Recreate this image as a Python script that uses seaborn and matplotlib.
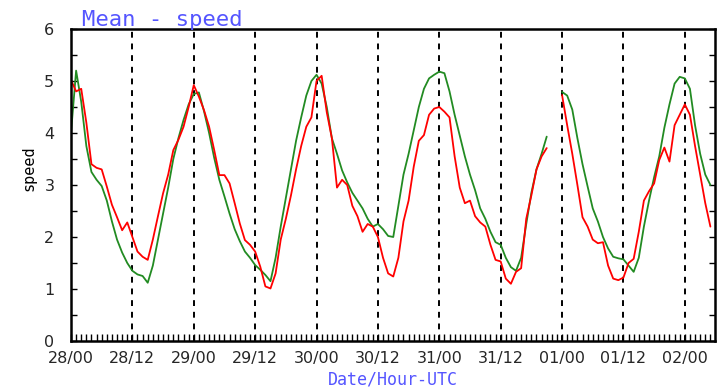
import numpy as np
import pandas as pd
import matplotlib
matplotlib.use("Agg")
import matplotlib.pyplot as plt
import seaborn as sns

# ---- data (hourly values) ----
hours = np.arange(126)
red_speed = [
    5.02, 4.80, 4.85, 4.20, 3.40, 3.33, 3.30, 2.97, 2.62, 2.38,
    2.13, 2.28, 2.00, 1.72, 1.62, 1.56, 1.95, 2.40, 2.84, 3.20,
    3.67, 3.87, 4.12, 4.50, 4.92, 4.70, 4.44, 4.12, 3.67, 3.19,
    3.19, 3.03, 2.65, 2.26, 1.94, 1.85, 1.72, 1.43, 1.05, 1.01,
    1.30, 1.95, 2.35, 2.80, 3.30, 3.75, 4.12, 4.30, 5.00, 5.10,
    4.40, 3.90, 2.95, 3.10, 3.00, 2.60, 2.40, 2.10, 2.25, 2.20,
    2.00, 1.60, 1.30, 1.24, 1.60, 2.30, 2.70, 3.35, 3.85, 3.96,
    4.35, 4.47, 4.50, 4.41, 4.30, 3.55, 2.95, 2.65, 2.70, 2.40,
    2.28, 2.20, 1.85, 1.56, 1.53, 1.20, 1.10, 1.33, 1.40, 2.35,
    2.80, 3.30, 3.55, 3.71, np.nan, np.nan, 4.73, 4.15, 3.60, 3.00,
    2.38, 2.20, 1.95, 1.88, 1.90, 1.45, 1.20, 1.17, 1.22, 1.50,
    1.58, 2.10, 2.70, 2.88, 3.03, 3.48, 3.72, 3.45, 4.15, 4.35,
    4.55, 4.35, 3.75, 3.20, 2.65, 2.20,
]
green_speed = [
    4.00, 5.20, 4.60, 3.75, 3.25, 3.10, 2.98, 2.70, 2.30, 1.95,
    1.70, 1.50, 1.35, 1.28, 1.25, 1.12, 1.45, 1.95, 2.45, 2.95,
    3.50, 3.90, 4.25, 4.55, 4.75, 4.78, 4.42, 4.00, 3.52, 3.10,
    2.78, 2.45, 2.15, 1.92, 1.72, 1.60, 1.46, 1.37, 1.27, 1.15,
    1.60, 2.20, 2.75, 3.30, 3.85, 4.30, 4.72, 5.00, 5.12, 4.95,
    4.50, 3.90, 3.60, 3.28, 3.05, 2.85, 2.70, 2.55, 2.35, 2.20,
    2.25, 2.15, 2.02, 2.00, 2.60, 3.20, 3.60, 4.05, 4.50, 4.85,
    5.05, 5.12, 5.18, 5.15, 4.80, 4.35, 3.95, 3.55, 3.20, 2.90,
    2.55, 2.35, 2.10, 1.90, 1.85, 1.60, 1.42, 1.35, 1.60, 2.25,
    2.85, 3.30, 3.60, 3.93, np.nan, np.nan, 4.79, 4.72, 4.45, 3.90,
    3.40, 2.97, 2.55, 2.30, 2.00, 1.78, 1.62, 1.59, 1.57, 1.45,
    1.33, 1.60, 2.20, 2.70, 3.15, 3.55, 4.10, 4.55, 4.95, 5.08,
    5.05, 4.85, 4.15, 3.60, 3.20, 3.00,
]
tick_hours = [0, 12, 24, 36, 48, 60, 72, 84, 96, 108, 120]
tick_labels = ["28/00", "28/12", "29/00", "29/12", "30/00", "30/12",
               "31/00", "31/12", "01/00", "01/12", "02/00"]
series_names = ["green", "red"]
series_colors = {"green": "#228b22", "red": "#ff0000"}

# ---- long-form table, segments split at the data gap ----
rows = []
for name, vals in (("green", green_speed), ("red", red_speed)):
    seg = 0
    for h, v in zip(hours, vals):
        if np.isnan(v):
            seg = 1
            continue
        rows.append({"hour": h, "speed": v, "series": name, "seg": seg})
df = pd.DataFrame(rows)

sns.set_style("white")
fig = plt.figure(figsize=(7.23, 3.88), dpi=100)
ax = fig.add_axes([71 / 723, 1 - 341 / 388, 644 / 723, 312 / 388])

sns.lineplot(data=df, x="hour", y="speed", hue="series", units="seg",
             estimator=None, palette=series_colors, hue_order=series_names,
             linewidth=1.3, legend=False, ax=ax)

ax.set_xlim(0, 125.9)
ax.set_ylim(0, 6)

ax.set_xticks(tick_hours)
ax.set_xticklabels(tick_labels)
ax.set_xticks(np.arange(0, 126, 1), minor=True)
ax.set_yticks(range(0, 7))
ax.set_yticks(np.arange(0, 6.01, 0.5), minor=True)

ax.tick_params(axis="x", which="both", direction="in", length=5, width=1,
               labelsize=11.5, pad=7, color="black", bottom=True, top=False)
ax.tick_params(axis="y", which="both", direction="in", length=4, width=1,
               left=True, right=True, labelsize=11.5, pad=12, color="black")

ax.grid(False)
for h in tick_hours[1:]:
    ax.axvline(h, color="black", linewidth=1.4, linestyle=(0, (3, 3)), zorder=0)

for s in ax.spines.values():
    s.set_color("black")
    s.set_linewidth(1.8)

ax.set_xlabel("Date/Hour-UTC", color="#5555ff", fontsize=12,
              family="DejaVu Sans Mono")
ax.xaxis.set_label_coords(0.5, -0.095)
ax.set_ylabel("speed", color="black", fontsize=11, family="DejaVu Sans Mono")
ax.yaxis.set_label_coords(-0.054, 0.555)

fig.text(82 / 723, 1 - 26 / 388, "Mean - speed", color="#5555ff",
         fontsize=16, family="DejaVu Sans Mono", va="baseline", ha="left")

fig.savefig("out.png", dpi=100, facecolor="white")
